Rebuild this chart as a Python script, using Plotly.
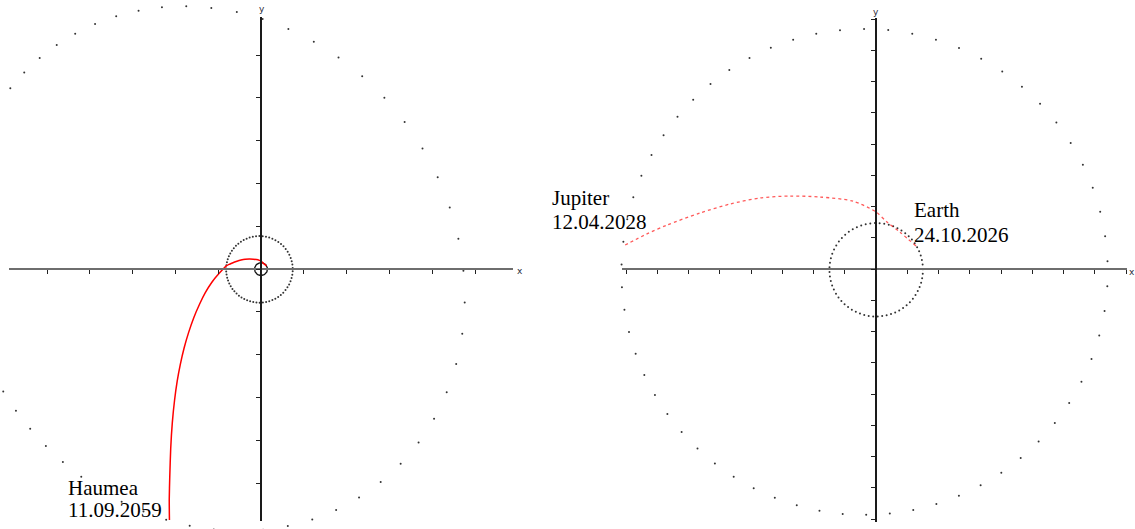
import numpy as np
import plotly.graph_objects as go

W, H = 1135, 529
AU_MKM = 149.598  # million km per astronomical unit

# Orbital elements (a in AU, angles in degrees)
ORBIT_NAMES = ["Earth", "Jupiter", "Haumea"]
ORBIT_A = [1.00000, 5.2026, 43.12]
ORBIT_E = [0.0167, 0.0484, 0.195]
ORBIT_INC = [0.0, 1.30, 28.2]
ORBIT_NODE = [0.0, 100.46, 121.8]
ORBIT_ARGPERI = [102.94, 273.87, 240.9]

# Transfer trajectory, heliocentric ecliptic coordinates in AU
LEG1_X = [0.856, 0.51, 0.24, 0.0, -0.49, -1.20, -1.84, -2.48, -3.12, -3.76, -4.47, -4.90, -5.41]
LEG1_Y = [0.492, 0.79, 1.00, 1.22, 1.45, 1.54, 1.56, 1.52, 1.39, 1.20, 0.94, 0.75, 0.49]
LEG2_X = [-5.41, -6.6, -7.7, -8.7, -9.6, -10.5, -11.3, -12.0, -12.6, -13.1, -13.5,
          -13.85, -14.1, -14.25, -14.33, -14.3]
LEG2_Y = [0.49, -0.75, -2.1, -3.7, -5.5, -7.6, -9.9, -12.3, -14.9, -17.6, -20.5,
          -24.0, -28.0, -32.5, -36.0, -39.2]

EVENT_LABELS = [("Earth", "24.10.2026"), ("Jupiter", "12.04.2028"), ("Haumea", "11.09.2059")]


def orbit_xy(a, e, inc, node, argp, n=64):
    m = np.linspace(0.0, 2 * np.pi, n, endpoint=False)
    ecc = m.copy()
    for _ in range(30):
        ecc = m + e * np.sin(ecc)
    nu = 2 * np.arctan2(np.sqrt(1 + e) * np.sin(ecc / 2), np.sqrt(1 - e) * np.cos(ecc / 2))
    r = a * (1 - e * np.cos(ecc))
    u = np.radians(argp) + nu
    om, i = np.radians(node), np.radians(inc)
    x = r * (np.cos(om) * np.cos(u) - np.sin(om) * np.sin(u) * np.cos(i))
    y = r * (np.sin(om) * np.cos(u) + np.cos(om) * np.sin(u) * np.cos(i))
    return x * AU_MKM, y * AU_MKM


def mkm(vals):
    return [v * AU_MKM for v in vals]


fig = go.Figure()

# panel geometry: origin pixel, pixels per million km, axis extents in pixels
panels = [
    dict(ox=261, oy=269, s=42.8 / 1000, dom=(0, 567), ax_x=(9, 513), ax_y=(17, 521), dtick=1000),
    dict(ox=876, oy=269, s=31.25 / 100, dom=(567, 1135), ax_x=(622, 1127), ax_y=(18, 522), dtick=100),
]

layout = dict(
    width=W, height=H, autosize=False,
    margin=dict(l=0, r=0, t=0, b=0),
    paper_bgcolor="white", plot_bgcolor="rgba(0,0,0,0)",
    showlegend=False,
)

for k, p in enumerate(panels):
    n_data = k + 1
    n_axis = k + 3
    s = p["s"]
    # data subplot spanning the whole half of the figure
    layout[f"xaxis{n_data}"] = dict(
        domain=[p["dom"][0] / W, p["dom"][1] / W],
        range=[(p["dom"][0] - p["ox"]) / s, (p["dom"][1] - p["ox"]) / s],
        visible=False, anchor=f"y{n_data}",
    )
    layout[f"yaxis{n_data}"] = dict(
        domain=[0, 1],
        range=[(p["oy"] - H) / s, p["oy"] / s],
        visible=False, anchor=f"x{n_data}",
    )
    # coordinate axes crossing at the Sun
    layout[f"xaxis{n_axis}"] = dict(
        domain=[p["ax_x"][0] / W, p["ax_x"][1] / W],
        range=[(p["ax_x"][0] - p["ox"]) / s, (p["ax_x"][1] - p["ox"]) / s],
        anchor="free", position=1 - p["oy"] / H,
        showline=True, linecolor="#6e6e6e", linewidth=2,
        ticks="outside", ticklen=4, tickwidth=1, tickcolor="#222",
        tick0=0, dtick=p["dtick"], showticklabels=False,
        showgrid=False, zeroline=False,
    )
    layout[f"yaxis{n_axis}"] = dict(
        domain=[1 - p["ax_y"][1] / H, 1 - p["ax_y"][0] / H],
        range=[(p["oy"] - p["ax_y"][1]) / s, (p["oy"] - p["ax_y"][0]) / s],
        anchor="free", position=p["ox"] / W,
        showline=True, linecolor="#1a1a1a", linewidth=1.5,
        ticks="outside", ticklen=4, tickwidth=1, tickcolor="#222",
        tick0=0, dtick=p["dtick"], showticklabels=False,
        showgrid=False, zeroline=False,
    )
    fig.add_trace(go.Scatter(x=[None], y=[None], xaxis=f"x{n_axis}", yaxis=f"y{n_axis}",
                             mode="markers", hoverinfo="skip"))

# planetary orbits as sampled positions
left_orbits = {"Earth": "line", "Jupiter": "dots", "Haumea": "dots"}
right_orbits = {"Earth": "dots", "Jupiter": "dots"}
for idx, name in enumerate(ORBIT_NAMES):
    ox, oy = orbit_xy(ORBIT_A[idx], ORBIT_E[idx], ORBIT_INC[idx], ORBIT_NODE[idx], ORBIT_ARGPERI[idx])
    for panel, styles in ((1, left_orbits), (2, right_orbits)):
        if name not in styles:
            continue
        if styles[name] == "line":
            fig.add_trace(go.Scatter(
                x=np.append(ox, ox[0]), y=np.append(oy, oy[0]), mode="lines",
                line=dict(color="#111", width=1.3),
                xaxis=f"x{panel}", yaxis=f"y{panel}", hoverinfo="skip"))
        else:
            fig.add_trace(go.Scatter(
                x=ox, y=oy, mode="markers",
                marker=dict(color="#333", size=2, line=dict(width=0)),
                xaxis=f"x{panel}", yaxis=f"y{panel}", hoverinfo="skip"))

# transfer trajectory
fig.add_trace(go.Scatter(
    x=mkm(LEG1_X + LEG2_X[1:]), y=mkm(LEG1_Y + LEG2_Y[1:]), mode="lines",
    line=dict(color="#ff0000", width=1.5, shape="spline", smoothing=0.6),
    xaxis="x1", yaxis="y1", hoverinfo="skip"))
fig.add_trace(go.Scatter(
    x=mkm(LEG1_X), y=mkm(LEG1_Y), mode="lines",
    line=dict(color="rgba(255,0,0,0.65)", width=1.3, shape="spline", smoothing=0.8, dash="dot"),
    xaxis="x2", yaxis="y2", hoverinfo="skip"))

fig.update_layout(**layout)

# event labels
label_pos = {"Earth": (912, 210, 235), "Jupiter": (550, 198, 222), "Haumea": (66, 488, 510)}
for name, date in EVENT_LABELS:
    px, py1, py2 = label_pos[name]
    for txt, py in ((name, py1), (date, py2)):
        fig.add_annotation(
            x=px / W, y=1 - py / H, xref="paper", yref="paper",
            text=txt, showarrow=False, xanchor="left", yanchor="middle",
            font=dict(family="Liberation Serif", size=21, color="#000"))

# axis names
for txt, px, py in (("x", 520, 271), ("y", 262, 9), ("x", 1132, 272), ("y", 876, 12)):
    fig.add_annotation(
        x=px / W, y=1 - py / H, xref="paper", yref="paper", text=txt,
        showarrow=False, xanchor="center", yanchor="middle",
        font=dict(family="DejaVu Sans", size=9, color="#2a2a3a"))

fig.write_html("out.html")
